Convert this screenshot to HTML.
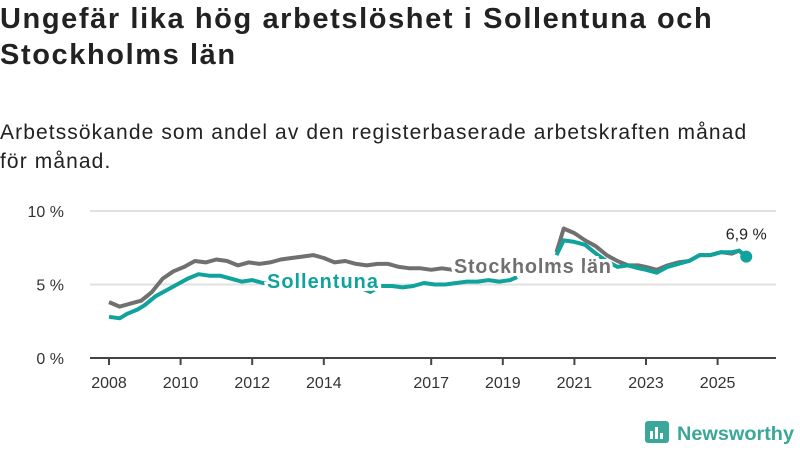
<!DOCTYPE html>
<html><head><meta charset="utf-8"><style>
body{margin:0;width:800px;height:450px;background:#fff;overflow:hidden;font-family:"Liberation Sans","DejaVu Sans",sans-serif;color:#222}
h1{position:absolute;left:0;top:1px;margin:0;font-size:29px;line-height:36px;font-weight:bold;width:760px;letter-spacing:1.6px;white-space:nowrap}
.sub{position:absolute;left:0;top:118px;font-size:21px;line-height:29px;width:800px;color:#222;letter-spacing:1.1px;white-space:nowrap}
svg{position:absolute;left:0;top:0}
</style></head><body>
<h1>Ungefär lika hög arbetslöshet i Sollentuna och<br>Stockholms län</h1>
<div class="sub">Arbetssökande som andel av den registerbaserade arbetskraften månad<br>för månad.</div>
<svg width="800" height="450" id="chart"></svg>
<script>
const yTicks=[0,5,10];
const yTickLabels=["0 %","5 %","10 %"];
const xTicks=[2008,2010,2012,2014,2017,2019,2021,2023,2025];
const sollT=[2008.0,2008.3,2008.5,2008.8,2009.0,2009.3,2009.6,2009.9,2010.2,2010.5,2010.8,2011.1,2011.4,2011.7,2012.0,2012.3,2012.6,2013.0,2013.5,2014.0,2014.5,2014.7,2015.0,2015.3,2015.6,2015.9,2016.2,2016.5,2016.8,2017.1,2017.4,2017.7,2018.0,2018.3,2018.6,2018.9,2019.2,2019.4,2019.6,2020.5,2020.7,2021.0,2021.3,2021.6,2021.9,2022.2,2022.5,2022.8,2023.0,2023.3,2023.6,2023.9,2024.2,2024.5,2024.8,2025.1,2025.4,2025.6,2025.8];
const sollV=[2.8,2.7,3.0,3.3,3.6,4.2,4.6,5.0,5.4,5.7,5.6,5.6,5.4,5.2,5.3,5.1,5.1,5.0,5.0,4.9,4.8,4.8,4.8,4.5,4.9,4.9,4.8,4.9,5.1,5.0,5.0,5.1,5.2,5.2,5.3,5.2,5.3,5.5,null,7.0,8.0,7.9,7.7,7.1,6.6,6.2,6.3,6.1,6.0,5.8,6.2,6.4,6.6,7.0,7.0,7.2,7.2,7.3,6.9];
const sthlmT=[2008.0,2008.3,2008.6,2008.9,2009.2,2009.5,2009.8,2010.1,2010.4,2010.7,2011.0,2011.3,2011.6,2011.9,2012.2,2012.5,2012.8,2013.1,2013.4,2013.7,2014.0,2014.3,2014.6,2014.9,2015.2,2015.5,2015.8,2016.1,2016.4,2016.7,2017.0,2017.3,2017.6,2018.2,2018.8,2019.4,2019.6,2020.5,2020.7,2021.0,2021.3,2021.6,2021.9,2022.2,2022.5,2022.8,2023.0,2023.3,2023.6,2023.9,2024.2,2024.5,2024.8,2025.1,2025.4,2025.6,2025.8];
const sthlmV=[3.8,3.5,3.7,3.9,4.5,5.4,5.9,6.2,6.6,6.5,6.7,6.6,6.3,6.5,6.4,6.5,6.7,6.8,6.9,7.0,6.8,6.5,6.6,6.4,6.3,6.4,6.4,6.2,6.1,6.1,6.0,6.1,6.0,6.1,6.1,6.1,null,7.2,8.8,8.5,8.0,7.6,7.0,6.6,6.3,6.3,6.2,6.0,6.3,6.5,6.6,7.0,7.0,7.2,7.1,7.3,6.9];
const NS="http://www.w3.org/2000/svg";
const svg=document.getElementById('chart');
const x=t=>109+(t-2008)*35.8;
const y=v=>358-v*14.7;
function mk(tag,attrs,parent){const e=document.createElementNS(NS,tag);for(const k in attrs)e.setAttribute(k,attrs[k]);(parent||svg).appendChild(e);return e;}
yTicks.forEach((v,i)=>{
  if(v>0){const g=mk('line',{x1:90,x2:776,y1:y(v),y2:y(v),stroke:'#e0e0e0','stroke-width':2});
  
  }
  const t=mk('text',{x:64,y:y(v)+6,'text-anchor':'end','font-size':16,fill:'#333'});t.textContent=yTickLabels[i];
  
  
});
const ax=mk('line',{x1:90,x2:776,y1:358,y2:358,stroke:'#444','stroke-width':2});


xTicks.forEach(yr=>{
  const tk=mk('line',{x1:x(yr),x2:x(yr),y1:358,y2:365,stroke:'#444','stroke-width':2});
  
  
  const t=mk('text',{x:x(yr),y:388,'text-anchor':'middle','font-size':16,fill:'#333'});t.textContent=yr;
  
  
});
function path(T,V){let d='',pen=false;T.forEach((t,i)=>{if(V[i]==null){pen=false;return;}d+=(pen?'L':'M')+x(t).toFixed(1)+','+y(V[i]).toFixed(1);pen=true;});return d;}
const ps=mk('path',{d:path(sthlmT,sthlmV),fill:'none',stroke:'#707070','stroke-width':4,'stroke-linejoin':'round'});


const pl=mk('path',{d:path(sollT,sollV),fill:'none',stroke:'#10a39b','stroke-width':4,'stroke-linejoin':'round'});


const li=sollT.length-1;
const dot=mk('circle',{cx:x(sollT[li]),cy:y(sollV[li]),r:6,fill:'#10a39b'});


const vl=mk('text',{x:x(sollT[li]),y:y(sollV[li])-17,'text-anchor':'middle','font-size':16,fill:'#222'});vl.textContent=sollV[li].toFixed(1).replace('.',',')+' %';


const l1=mk('text',{x:267,y:288,'font-size':20,'font-weight':'bold',fill:'#10a39b',stroke:'#fff','stroke-width':6,'paint-order':'stroke',textLength:111,lengthAdjust:'spacing'});l1.textContent='Sollentuna';


const l2=mk('text',{x:454,y:273,'font-size':20,'font-weight':'bold',fill:'#707070',stroke:'#fff','stroke-width':6,'paint-order':'stroke',textLength:157,lengthAdjust:'spacing'});l2.textContent='Stockholms län';


const lg=mk('g',{});


mk('rect',{x:645,y:421,width:24,height:22,rx:3,fill:'#3aa79a'},lg);
mk('rect',{x:650,y:431,width:3,height:8,fill:'#fff'},lg);
mk('rect',{x:655,y:427,width:3,height:12,fill:'#fff'},lg);
mk('rect',{x:660,y:433,width:3,height:6,fill:'#fff'},lg);
const lt=mk('text',{x:677,y:440,'font-size':19,'font-weight':'bold',fill:'#3aa79a',textLength:117,lengthAdjust:'spacingAndGlyphs'},lg);lt.textContent='Newsworthy';
</script>
</body></html>
